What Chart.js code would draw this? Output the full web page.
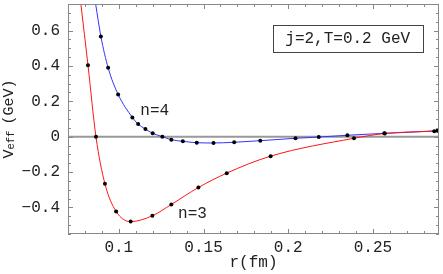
<!DOCTYPE html>
<html>
<head>
<meta charset="utf-8">
<script src="https://cdn.jsdelivr.net/npm/chart.js@4.4.1/dist/chart.umd.min.js"></script>
<style>
  html, body { margin: 0; padding: 0; background: #fff; }
  #wrap { width: 443px; height: 274px; }
  #probe { position: absolute; left: -999px; font: 16px "Liberation Mono"; }
</style>
</head>
<body>
<div id="wrap"><canvas id="veff"></canvas></div>
<span id="probe">0.1 n=3</span>
<script>
const rN3 = [0.0818, 0.0865, 0.0918, 0.0984, 0.107, 0.1198, 0.131, 0.147, 0.1637, 0.1896, 0.2388, 0.257, 0.2862];
const vN3 = [0.404, 0.0, -0.266, -0.4225, -0.48, -0.447, -0.383, -0.287, -0.206, -0.110, -0.009, 0.018, 0.031];
const rN4 = [0.0894, 0.0937, 0.0996, 0.108, 0.1114, 0.1157, 0.12, 0.1257, 0.131, 0.1378, 0.146, 0.1559, 0.1681, 0.1835, 0.2043, 0.218, 0.2349, 0.2567, 0.288];
const vN4 = [0.567, 0.389, 0.239, 0.109, 0.0716, 0.043, 0.019, 0.0, -0.017, -0.026, -0.034, -0.0355, -0.0316, -0.0225, -0.009, -0.002, 0.008, 0.019, 0.034];
// where each curve leaves the frame (left / right)
const n3Ends = [[0.0776, 0.75], [0.289, 0.032]];
const n4Ends = [[0.0863, 0.75], [0.289, 0.035]];

const xTicks = [0.1, 0.15, 0.2, 0.25];
const yTicks = [-0.4, -0.2, 0, 0.2, 0.4, 0.6];
const xRange = [0.07, 0.289];
const yRange = [-0.55, 0.75];

const mono = '"Liberation Mono", "DejaVu Sans Mono", monospace';
const ink = '#222';

function pts(rs, vs) {
  return rs.map((r, i) => ({ x: r, y: vs[i] }));
}
function curve(ends, rs, vs) {
  return [{ x: ends[0][0], y: ends[0][1] }, ...pts(rs, vs), { x: ends[1][0], y: ends[1][1] }];
}
function fmt(v) {
  const s = String(Number(v.toFixed(2)));
  return s.startsWith('-') ? '\u2212' + s.slice(1) : s;
}

const frame = {
  id: 'frame',
  beforeDatasetsDraw(chart) {
    const { ctx, chartArea: a, scales: { y } } = chart;
    const y0 = y.getPixelForValue(0);
    ctx.save();
    ctx.strokeStyle = '#999';
    ctx.lineWidth = 2;
    ctx.beginPath();
    ctx.moveTo(a.left, y0);
    ctx.lineTo(a.right, y0);
    ctx.stroke();
    ctx.restore();
  },
  afterDraw(chart) {
    const { ctx, chartArea: a, scales: { x, y } } = chart;
    ctx.save();
    ctx.strokeStyle = '#888';
    ctx.lineWidth = 1;
    ctx.strokeRect(a.left + 0.5, a.top + 0.5, a.right - a.left - 1, a.bottom - a.top - 1);

    ctx.beginPath();
    // x ticks every 0.01, long every 0.05
    for (let k = Math.ceil(xRange[0] * 100); k <= Math.floor(xRange[1] * 100); k++) {
      const px = Math.round(x.getPixelForValue(k / 100)) + 0.5;
      const len = k % 5 === 0 ? 5 : 3;
      ctx.moveTo(px, a.bottom); ctx.lineTo(px, a.bottom - len);
      ctx.moveTo(px, a.top); ctx.lineTo(px, a.top + len);
    }
    // y ticks every 0.05, long every 0.2
    for (let k = Math.ceil(yRange[0] * 20); k <= Math.floor(yRange[1] * 20); k++) {
      const py = Math.round(y.getPixelForValue(k / 20)) + 0.5;
      const len = k % 4 === 0 ? 5 : 3;
      ctx.moveTo(a.left, py); ctx.lineTo(a.left + len, py);
      ctx.moveTo(a.right, py); ctx.lineTo(a.right - len, py);
    }
    ctx.stroke();

    // curve labels
    ctx.fillStyle = ink;
    ctx.font = '16px ' + mono;
    ctx.textAlign = 'center';
    ctx.textBaseline = 'alphabetic';
    ctx.fillText('n=4', x.getPixelForValue(0.1212), y.getPixelForValue(0.122));
    ctx.fillText('n=3', x.getPixelForValue(0.1435), y.getPixelForValue(-0.458));

    // parameter box
    const bx = x.getPixelForValue(0.2351), by = y.getPixelForValue(0.557);
    ctx.strokeStyle = '#444';
    ctx.strokeRect(Math.round(bx - 75) + 0.5, Math.round(by - 13.5) + 0.5, 150, 27);
    ctx.textBaseline = 'middle';
    ctx.fillText('j=2,T=0.2 GeV', bx, by + 1);

    // y title with subscript
    ctx.translate(13, (a.top + a.bottom) / 2);
    ctx.rotate(-Math.PI / 2);
    ctx.textAlign = 'left';
    ctx.textBaseline = 'alphabetic';
    const big = '15px ' + mono, small = '10.5px ' + mono;
    ctx.font = big;
    const wV = ctx.measureText('V').width, wG = ctx.measureText('(GeV)').width;
    ctx.font = small;
    const wE = ctx.measureText('eff ').width;
    let u = -(wV + wE + wG) / 2;
    ctx.font = big; ctx.fillText('V', u, 0); u += wV;
    ctx.font = small; ctx.fillText('eff', u, 1); u += wE;
    ctx.font = big; ctx.fillText('(GeV)', u, 0);
    ctx.restore();
  }
};

function draw() {
  new Chart(document.getElementById('veff'), {
    type: 'scatter',
    data: {
      datasets: [
        { label: 'n=3 samples', data: pts(rN3, vN3), showLine: false, pointRadius: 2, pointBackgroundColor: '#000', pointBorderWidth: 0 },
        { label: 'n=4 samples', data: pts(rN4, vN4), showLine: false, pointRadius: 2, pointBackgroundColor: '#000', pointBorderWidth: 0 },
        { label: 'n=3', data: curve(n3Ends, rN3, vN3), showLine: true, borderColor: 'rgb(255,20,20)', borderWidth: 1, pointRadius: 0, cubicInterpolationMode: 'monotone' },
        { label: 'n=4', data: curve(n4Ends, rN4, vN4), showLine: true, borderColor: 'rgb(50,50,255)', borderWidth: 1, pointRadius: 0, cubicInterpolationMode: 'monotone' }
      ]
    },
    options: {
      responsive: true,
      maintainAspectRatio: false,
      devicePixelRatio: 1,
      animation: false,
      layout: { padding: { top: 3, right: 2, left: 0, bottom: 0 } },
      plugins: { legend: { display: false }, tooltip: { enabled: false } },
      scales: {
        x: {
          type: 'linear',
          min: xRange[0],
          max: xRange[1],
          grid: { display: false, drawTicks: false },
          border: { display: false },
          afterBuildTicks: s => { s.ticks = xTicks.map(v => ({ value: v })); },
          afterFit: s => { s.height = 40; s.paddingLeft = 0; s.paddingRight = 0; },
          ticks: { font: { family: mono, size: 16 }, color: ink, padding: 4, maxRotation: 0, autoSkip: false, callback: v => fmt(v) },
          title: { display: true, text: 'r(fm)', font: { family: mono, size: 16 }, color: ink, padding: { top: 0, bottom: 2 } }
        },
        y: {
          type: 'linear',
          min: yRange[0],
          max: yRange[1],
          grid: { display: false, drawTicks: false },
          border: { display: false },
          afterBuildTicks: s => { s.ticks = yTicks.map(v => ({ value: v })); },
          afterFit: s => { s.width = 68; s.paddingTop = 0; s.paddingBottom = 0; },
          ticks: { font: { family: mono, size: 16 }, color: ink, padding: 8, autoSkip: false, callback: v => fmt(v) }
        }
      }
    },
    plugins: [frame]
  });
}

document.fonts.load('16px "Liberation Mono"').then(draw, draw);
</script>
</body>
</html>
